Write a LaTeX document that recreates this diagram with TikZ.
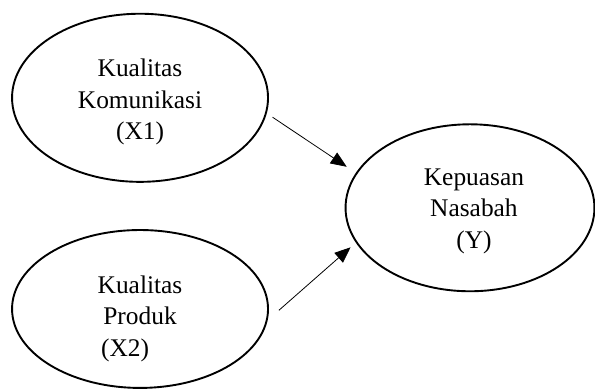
\documentclass[tikz,border=0pt]{standalone}
\usepackage{fontspec}
\setmainfont{Liberation Serif}
\usetikzlibrary{shapes.geometric, arrows.meta, positioning}
\tikzstyle{latentvar} = [ellipse, draw, line width=1.9pt, minimum width=9.03cm, minimum height=5.93cm, inner sep=0pt]
\tikzstyle{vartext} = [align=center, font=\fontsize{25.5}{31.7}\selectfont]
\tikzstyle{arrow} = [line width=0.8pt, -{Triangle[length=16pt, width=13pt]}]

\begin{document}
\begin{tikzpicture}
    \useasboundingbox (0,0) rectangle (20.99,13.72);
    \node[latentvar] (kom) at (4.94,10.27) {};
    \node[latentvar, minimum height=5.57cm] (pro) at (4.94,2.82) {};
    \node[latentvar, minimum width=8.78cm, minimum height=5.89cm] (kep) at (16.58,6.39) {};

    \node[vartext] (komtext) at (4.94,10.12) {Kualitas\\Komunikasi\\(X1)};
    \node[vartext] (protext) at (4.94,2.48) {Kualitas\\Produk\\\hspace*{-30pt}(X2)};
    \node[vartext] (keptext) at (16.72,6.27) {Kepuasan\\Nasabah\\(Y)};

    \draw[arrow, shorten <=7pt, shorten >=11pt] (kom.-7) -- (kep.163);
    \draw[arrow, shorten <=15pt, shorten >=7pt] (pro.-5) -- (kep.197);
\end{tikzpicture}
\end{document}
